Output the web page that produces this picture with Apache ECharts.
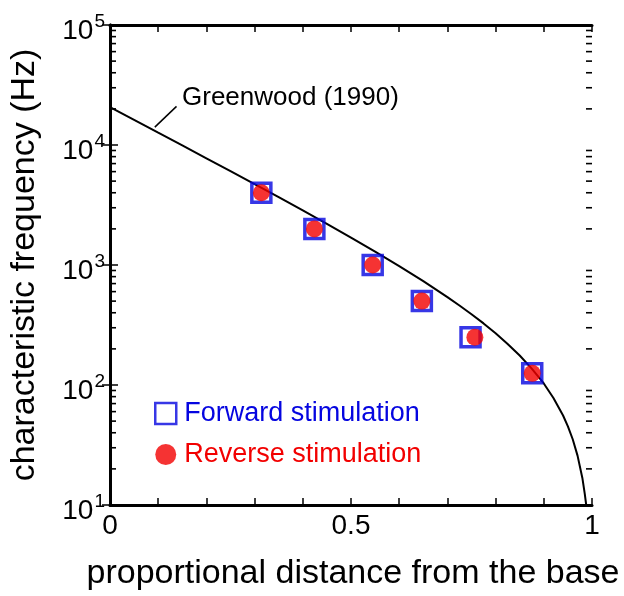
<!DOCTYPE html>
<html>
<head>
	<meta charset="utf-8">
	<title>Greenwood map</title>
	<script src="https://cdn.jsdelivr.net/npm/echarts@6/dist/echarts.min.js"></script>
	<style>
		html, body { margin: 0; padding: 0; background: #fff; }
	</style>
</head>
<body>
	<div id="main" style="width: 624px;height: 596px;"></div>
</body>
<script type="text/javascript">
	// Greenwood (1990) curve
	var curveX = [0, 0.05, 0.1, 0.15, 0.2, 0.25, 0.3, 0.35, 0.4, 0.45, 0.5, 0.55, 0.6, 0.65, 0.7, 0.725, 0.75, 0.775, 0.8, 0.825, 0.85, 0.875, 0.9, 0.92, 0.94, 0.95, 0.96, 0.97, 0.98, 0.985, 0.988];
	var curveY = [20650, 16190, 12670, 9920, 7750, 6050, 4720, 3670, 2850, 2200, 1690, 1290, 980, 733, 540, 460, 389, 326, 270, 220, 176, 137, 103, 78, 55.7, 45.2, 35.3, 25.8, 16.8, 12.4, 10];
	// markers
	var fwdX = [0.314, 0.424, 0.545, 0.647, 0.748, 0.876];
	var fwdY = [4000, 2000, 1000, 500, 250, 125];
	var revX = [0.314, 0.424, 0.545, 0.647, 0.757, 0.876];
	var revY = [4000, 2000, 1000, 500, 250, 125];
	// log minor ticks
	var minorTicks = [20, 30, 40, 50, 60, 70, 80, 90, 200, 300, 400, 500, 600, 700, 800, 900,
		2000, 3000, 4000, 5000, 6000, 7000, 8000, 9000, 20000, 30000, 40000, 50000, 60000, 70000, 80000, 90000];
	var xLabels = { '0': '0', '0.5': '0.5', '1': '1' };

	function pairs(xs, ys) {
		var out = [];
		for (var i = 0; i < xs.length; i++) out.push([xs[i], ys[i]]);
		return out;
	}

	var myChart = echarts.init(document.getElementById("main"));
	var font = 'Liberation Sans, Arial, sans-serif';
	var blue = '#0505e0';
	var red = '#f20000';

	var option = {
		animation: false,
		textStyle: { fontFamily: font },
		grid: { left: 108, right: 32, top: 25, bottom: 87, containLabel: false },
		legend: {
			orient: 'vertical',
			left: 149,
			top: 395,
			itemWidth: 21,
			itemHeight: 21,
			itemGap: 14,
			textStyle: { fontSize: 27, fontFamily: font, padding: [0, 0, 0, 3] },
			data: [
				{ name: 'Forward stimulation', icon: 'rect', textStyle: { color: blue },
					itemStyle: { color: '#fff', borderColor: blue, borderWidth: 2.5 } },
				{ name: 'Reverse stimulation', icon: 'circle', textStyle: { color: red } }
			]
		},
		xAxis: [{
			type: 'value',
			min: 0, max: 1, interval: 0.1,
			name: 'proportional distance from the base',
			nameLocation: 'middle',
			nameGap: 52,
			nameTextStyle: { fontSize: 34, color: '#000', fontFamily: font, padding: [0, 0, 0, 4] },
			axisLine: { lineStyle: { color: '#000', width: 3 } },
			axisTick: { inside: true, length: 7, lineStyle: { color: '#000', width: 1.5 } },
			axisLabel: {
				fontSize: 28, color: '#000', margin: 7, showMaxLabel: true, showMinLabel: true,
				formatter: function (v) {
					var k = String(Math.round(v * 10) / 10);
					return xLabels[k] !== undefined ? xLabels[k] : '';
				}
			},
			splitLine: { show: false }
		}, {
			type: 'value',
			position: 'top',
			min: 0, max: 1, interval: 0.1,
			axisLine: { lineStyle: { color: '#000', width: 3 } },
			axisTick: { inside: true, length: 7, lineStyle: { color: '#000', width: 1.5 } },
			axisLabel: { show: false },
			splitLine: { show: false }
		}],
		yAxis: [{
			type: 'log',
			logBase: 10,
			min: 10, max: 100000,
			name: 'characteristic frequency (Hz)',
			nameLocation: 'middle',
			nameGap: 68,
			nameTextStyle: { fontSize: 34, color: '#000', fontFamily: font },
			axisLine: { lineStyle: { color: '#000', width: 3 } },
			axisTick: { inside: true, length: 8, lineStyle: { color: '#000', width: 1.5 } },
			axisLabel: {
				margin: 5,
				padding: [12, 0, 0, 0],
				formatter: function (v) {
					var e = Math.round(Math.log(v) / Math.LN10);
					return '{b|10}{s|' + e + '}';
				},
				rich: {
					b: { fontSize: 28, color: '#000', fontFamily: font },
					s: { fontSize: 19, color: '#000', fontFamily: font, padding: [0, 0, 18, 1] }
				}
			},
			splitLine: { show: false }
		}, {
			type: 'log',
			logBase: 10,
			position: 'right',
			min: 10, max: 100000,
			axisLine: { lineStyle: { color: '#000', width: 3 } },
			axisTick: { inside: true, length: 8, lineStyle: { color: '#000', width: 1.5 } },
			axisLabel: { show: false },
			splitLine: { show: false }
		}],
		graphic: [{
			type: 'text',
			left: 182,
			top: 85,
			style: { text: 'Greenwood (1990)', font: '26px ' + font, fill: '#000' }
		}],
		series: [{
			name: 'Greenwood',
			type: 'line',
			symbol: 'none',
			smooth: false,
			lineStyle: { color: '#000', width: 2 },
			data: pairs(curveX, curveY),
			markLine: {
				silent: true,
				symbol: 'none',
				label: { show: false },
				lineStyle: { color: '#000', width: 1.5, type: 'solid' },
				data: [[{ coord: [0.093, 14100] }, { coord: [0.138, 21000] }]]
			},
			z: 2
		}, {
			// log minor ticks on left and right edges
			name: 'minor',
			type: 'custom',
			silent: true,
			clip: false,
			data: minorTicks.map(function (v) { return [0, v]; }),
			renderItem: function (params, api) {
				var pl = api.coord([0, api.value(1)]);
				var pr = api.coord([1, api.value(1)]);
				var st = { stroke: '#000', lineWidth: 1.6 };
				return {
					type: 'group',
					children: [
						{ type: 'line', shape: { x1: pl[0], y1: pl[1], x2: pl[0] + 6, y2: pl[1] }, style: st },
						{ type: 'line', shape: { x1: pr[0], y1: pr[1], x2: pr[0] - 6, y2: pr[1] }, style: st }
					]
				};
			},
			z: 1
		}, {
			name: 'Forward stimulation',
			type: 'scatter',
			symbol: 'rect',
			symbolSize: 19,
			itemStyle: { color: 'rgba(255,255,255,0)', borderColor: blue, borderWidth: 3.5 },
			data: pairs(fwdX, fwdY),
			z: 3
		}, {
			name: 'Reverse stimulation',
			type: 'scatter',
			symbol: 'circle',
			symbolSize: 17,
			itemStyle: { color: red },
			data: pairs(revX, revY),
			z: 4
		}]
	};
	myChart.setOption(option);
</script>
</html>
